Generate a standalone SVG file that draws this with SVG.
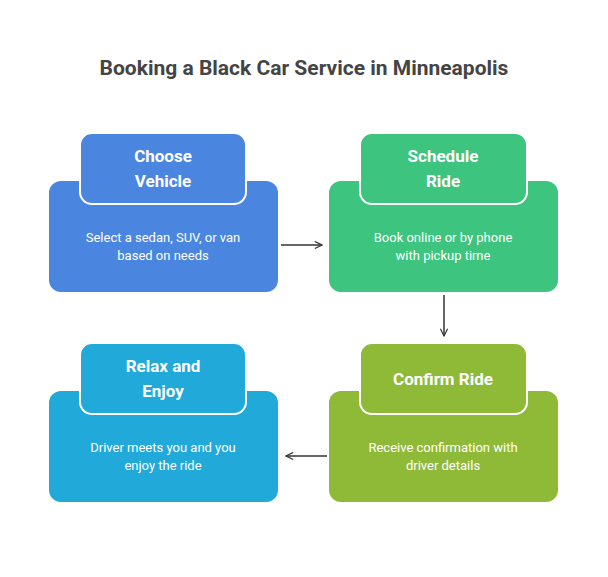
<svg xmlns="http://www.w3.org/2000/svg" width="608" height="577" viewBox="0 0 608 577">
<defs><marker id="ah" viewBox="0 0 10 10" refX="9" refY="5" markerWidth="9" markerHeight="9" markerUnits="userSpaceOnUse" orient="auto"><path d="M1,1 L9,5 L1,9" fill="none" stroke="#333" stroke-width="1.3"/></marker></defs>
<style>
text{font-family:Roboto,"Liberation Sans",sans-serif;text-anchor:middle;fill:#fff}
.t{font-size:17px;font-weight:bold}
.d{font-size:13px}
.tab{stroke:#fff;stroke-width:2}
.c{stroke:#333;stroke-width:1.5;fill:none}
</style>
<rect width="608" height="577" fill="#fff"/>
<text x="304" y="75" style="font-size:21px;font-weight:bold;fill:#444">Booking a Black Car Service in Minneapolis</text>
<g id="choose"><rect x="49" y="181" width="229" height="111" rx="12" fill="#4a86e0"/><rect class="tab" x="80" y="133" width="166" height="71" rx="12" fill="#4a86e0"/><text class="t" x="163" y="162">Choose</text><text class="t" x="163" y="187">Vehicle</text><text class="d" x="163" y="242">Select a sedan, SUV, or van</text><text class="d" x="163" y="260">based on needs</text></g>
<g id="schedule"><rect x="329" y="181" width="229" height="111" rx="12" fill="#3dc47e"/><rect class="tab" x="360" y="133" width="167" height="71" rx="12" fill="#3dc47e"/><text class="t" x="443" y="162">Schedule</text><text class="t" x="443" y="187">Ride</text><text class="d" x="443" y="242">Book online or by phone</text><text class="d" x="443" y="260">with pickup time</text></g>
<g id="confirm"><rect x="329" y="391" width="229" height="111" rx="12" fill="#8fba38"/><rect class="tab" x="360" y="343" width="167" height="71" rx="12" fill="#8fba38"/><text class="t" x="443" y="385">Confirm Ride</text><text class="d" x="443" y="452">Receive confirmation with</text><text class="d" x="443" y="470">driver details</text></g>
<g id="relax"><rect x="49" y="391" width="229" height="111" rx="12" fill="#21a9d9"/><rect class="tab" x="80" y="343" width="166" height="71" rx="12" fill="#21a9d9"/><text class="t" x="163" y="372">Relax and</text><text class="t" x="163" y="397">Enjoy</text><text class="d" x="163" y="452">Driver meets you and you</text><text class="d" x="163" y="470">enjoy the ride</text></g>
<g id="connectors">
<line class="c" x1="281" y1="245" x2="322" y2="245" marker-end="url(#ah)"/>
<line class="c" x1="444" y1="295" x2="444" y2="336" marker-end="url(#ah)"/>
<line class="c" x1="327" y1="456" x2="286" y2="456" marker-end="url(#ah)"/>
</g>
</svg>
